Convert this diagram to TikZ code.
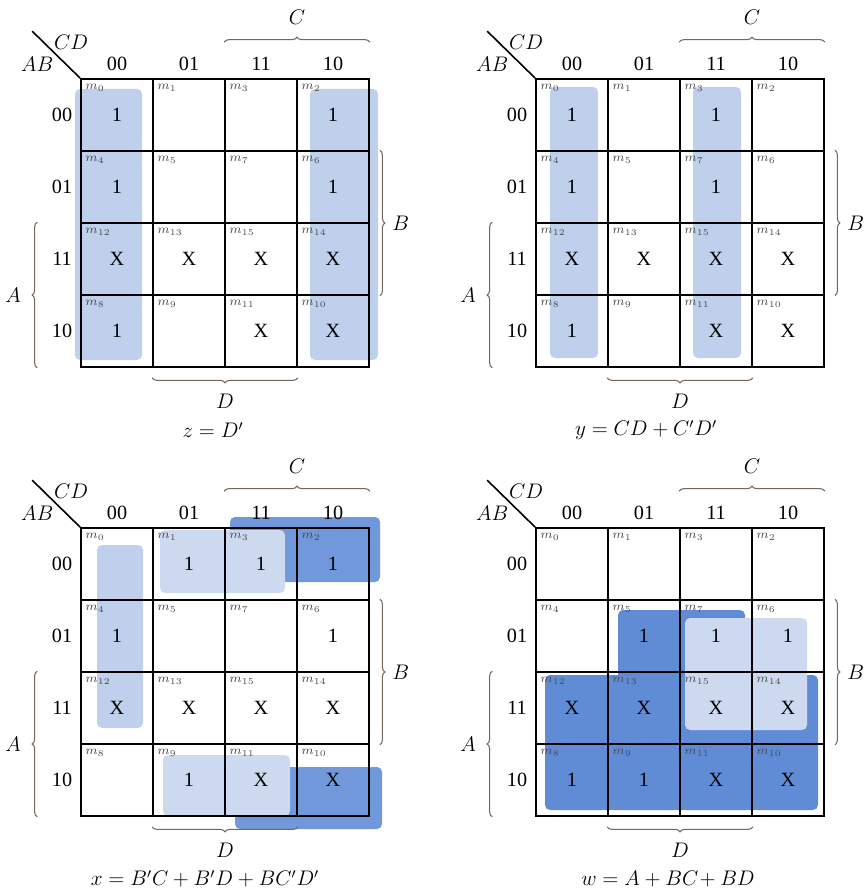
\documentclass[tikz,border=0pt]{standalone}
\usepackage{fontspec}
\setmainfont{Liberation Serif}
\usetikzlibrary{decorations.pathreplacing}

\definecolor{shadelight}{RGB}{190,208,235}
\definecolor{shadepale}{RGB}{204,217,238}
\definecolor{shademid}{RGB}{112,152,218}
\definecolor{shadedark}{RGB}{96,140,214}
\definecolor{braceclr}{RGB}{115,102,90}

\begin{document}
\begin{tikzpicture}[
  x=0.02cm, y=-0.02cm,
  lbl/.style={font=\fontsize{11.5}{13}\selectfont},
  cell/.style={draw, line width=1pt, minimum size=1.44cm, inner sep=0pt,
    font=\fontsize{11.5}{13}\selectfont},
  mlab/.style={anchor=north west, inner sep=0pt, xshift=0.1cm, yshift=-0.12cm,
    text=black!70, font=\fontsize{7.5}{8}\selectfont},
  brc/.style={decorate, decoration={brace, amplitude=0.1cm},
    draw=braceclr, line width=0.6pt},
  lite/.style={fill=shadelight, rounded corners=0.1cm},
  pale/.style={fill=shadepale, rounded corners=0.1cm},
  mid/.style={fill=shademid, rounded corners=0.1cm},
  dark/.style={fill=shadedark, rounded corners=0.1cm}
]
\useasboundingbox (0,0) rectangle (866,891);

% ── Groups (behind the grids) ──
% z = D'
\fill[lite] (75,89) rectangle (142,360);
\fill[lite] (310,89) rectangle (378,360);
% y = CD + C'D'
\fill[lite] (550,87) rectangle (598,358);
\fill[lite] (693,87) rectangle (741,358);
% x = B'C + B'D + BC'D'
\fill[mid] (230,517) rectangle (380,582);
\fill[mid] (235,767) rectangle (382,829);
\fill[pale] (160,530) rectangle (285,593);
\fill[pale] (163,755) rectangle (290,816);
\fill[lite] (97,545) rectangle (143,728);
% w = A + BC + BD
\fill[dark] (545,675) rectangle (818,810);
\fill[dark] (618,610) rectangle (745,700);
\fill[pale] (685,618) rectangle (807,730);

% ── Maps ──
\foreach \nm/\ox/\oy/\fx/\fml/\vals in {
  z/81/79/132/{$z = D'$}/{1,,,1,1,,,1,X,X,X,X,1,,X,X},
  y/536/79/110/{$y = CD + C'D'$}/{1,,1,,1,,1,,X,X,X,X,1,,X,X},
  x/81/528/124/{$x = B'C + B'D + BC'D'$}/{,1,1,1,1,,,1,X,X,X,X,,1,X,X},
  w/536/528/132/{$w = A + BC\!+ BD$}/{,,,,,1,1,1,X,X,X,X,1,1,X,X}}{

  % cells and minterms
  \foreach \v [count=\i from 0] in \vals {
    \pgfmathtruncatemacro\r{int(\i/4)}
    \pgfmathtruncatemacro\c{mod(\i,4)}
    \pgfmathtruncatemacro\mt{{0,4,12,8}[\r]+{0,1,3,2}[\c]}
    \node[cell] (\nm-\r-\c) at (\ox+36+72*\c, \oy+36+72*\r) {\v};
    \node[mlab] at (\nm-\r-\c.north west) {$m_{\mt}$};
  }

  % row and column codes
  \foreach \lb [count=\k from 0] in {00,01,11,10} {
    \node[lbl] (\nm-r\k) at (\ox-19, \oy+36+72*\k) {\lb};
    \node[lbl] (\nm-c\k) at (\ox+36+72*\k, \oy-15) {\lb};
  }

  % corner
  \coordinate (\nm-d) at ([shift={(-0.96cm,0.94cm)}]\nm-0-0.north west);
  \draw[line width=0.9pt] (\nm-0-0.north west) -- (\nm-d);
  \node[lbl] (\nm-cd) at ([shift={(-0.18cm,0.72cm)}]\nm-0-0.north west) {$CD$};
  \node[lbl] (\nm-ab) at ([shift={(-0.86cm,0.27cm)}]\nm-0-0.north west) {$AB$};

  % variable braces
  \draw[brc] ([yshift=0.72cm]\nm-0-2.north west) -- ([yshift=0.72cm]\nm-0-3.north east)
    node[lbl, midway, above=0.22cm] {$C$};
  \draw[brc] ([xshift=0.2cm]\nm-1-3.north east) -- ([xshift=0.2cm]\nm-2-3.south east)
    node[lbl, midway, right=0.12cm] {$B$};
  \draw[brc] ([xshift=-0.86cm]\nm-3-0.south west) -- ([xshift=-0.86cm]\nm-2-0.north west)
    node[lbl, midway, left=0.2cm] {$A$};
  \draw[brc] ([yshift=-0.2cm]\nm-3-2.south east) -- ([yshift=-0.2cm]\nm-3-1.south west)
    node[lbl, midway, below=0.2cm] {$D$};

  % result
  \node[lbl] (\nm-f) at (\ox+\fx, \oy+351) {\fml};
}

\end{tikzpicture}
\end{document}
